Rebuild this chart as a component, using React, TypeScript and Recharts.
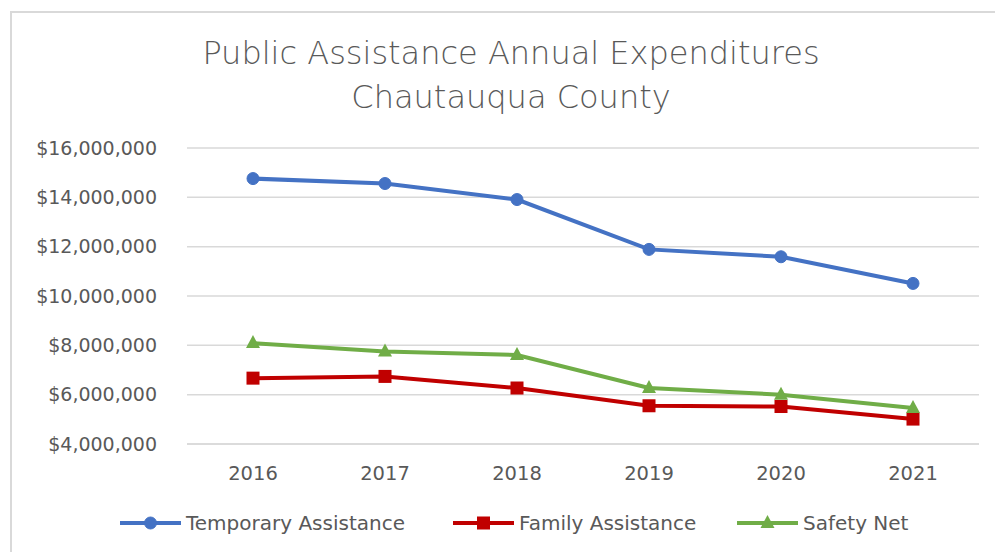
import React from 'react';
import { LineChart, Line, XAxis, YAxis, CartesianGrid } from 'recharts';

const years = ['2016', '2017', '2018', '2019', '2020', '2021'];
const temporaryAssistance = [14760000, 14560000, 13910000, 11890000, 11590000, 10510000];
const familyAssistance = [6670000, 6740000, 6270000, 5550000, 5520000, 5010000];
const safetyNet = [8090000, 7750000, 7610000, 6270000, 6000000, 5460000];
const yTicks = [4000000, 6000000, 8000000, 10000000, 12000000, 14000000, 16000000];
const titleLines = ['Public Assistance Annual Expenditures', 'Chautauqua County'];
const seriesNames = ['Temporary Assistance', 'Family Assistance', 'Safety Net'];
const seriesColors = ['#4472C4', '#C00000', '#70AD47'];
const seriesShapes = ['circle', 'square', 'triangle'];

const data = years.map((y, i) => ({
  year: y,
  temporary: temporaryAssistance[i],
  family: familyAssistance[i],
  safety: safetyNet[i],
}));
const seriesKeys = ['temporary', 'family', 'safety'];

const FONT = '"DejaVu Sans", sans-serif';
const TEXT = '#595959';
const legendLeft = [120, 453, 737];

const fmt = (v: number) => '$' + v.toLocaleString('en-US');

function Marker({ shape, cx, cy, color }: { shape: string; cx: number; cy: number; color: string }) {
  if (cx == null || cy == null) return null;
  if (shape === 'circle') return <circle cx={cx} cy={cy} r={6} fill={color} stroke={color} />;
  if (shape === 'square') return <rect x={cx - 6.5} y={cy - 6.5} width={13} height={13} fill={color} />;
  return <polygon points={`${cx},${cy - 8} ${cx + 7},${cy + 5} ${cx - 7},${cy + 5}`} fill={color} />;
}

export default function App() {
  return (
    <div style={{ position: 'fixed', left: 0, top: 0, width: 995, height: 552, overflow: 'hidden', background: '#fff' }}>
      <div
        style={{
          position: 'absolute',
          left: 10,
          top: 11,
          width: 1000,
          height: 600,
          borderLeft: '2px solid #d9d9d9',
          borderTop: '2px solid #d9d9d9',
        }}
      />
      <svg width={995} height={130} style={{ position: 'absolute', left: 0, top: 0 }}>
        {titleLines.map((t, i) => (
          <text
            key={i}
            x={511}
            y={64 + i * 44}
            textAnchor="middle"
            fontFamily={FONT}
            fontWeight={300}
            fontSize={32}
            fill={TEXT}
          >
            {t}
          </text>
        ))}
      </svg>
      <div style={{ position: 'absolute', left: 0, top: 0 }}>
        <LineChart width={995} height={552} data={data} margin={{ top: 148, right: 16, bottom: 68, left: 0 }}>
          <CartesianGrid vertical={false} stroke="#d9d9d9" strokeWidth={1.5} />
          <XAxis
            dataKey="year"
            axisLine={{ stroke: '#d9d9d9', strokeWidth: 1.5 }}
            tickLine={false}
            tickSize={0}
            tickMargin={22}
            height={40}
            padding={{ left: 66, right: 66 }}
            tick={{ fill: TEXT, fontSize: 19.5, fontFamily: FONT }}
          />
          <YAxis
            domain={[4000000, 16000000]}
            ticks={yTicks}
            width={187}
            axisLine={false}
            tickLine={false}
            tickSize={0}
            tickMargin={30}
            tickFormatter={fmt}
            tick={{ fill: TEXT, fontSize: 19, fontFamily: FONT }}
          />
          {seriesKeys.map((k, i) => (
            <Line
              key={k}
              dataKey={k}
              name={seriesNames[i]}
              stroke={seriesColors[i]}
              strokeWidth={4}
              isAnimationActive={false}
              dot={(p: any) => <Marker key={`${k}-${p.index}`} shape={seriesShapes[i]} cx={p.cx} cy={p.cy} color={seriesColors[i]} />}
              activeDot={false}
            />
          ))}
        </LineChart>
      </div>
      {seriesNames.map((n, i) => (
        <div
          key={n}
          style={{
            position: 'absolute',
            left: legendLeft[i],
            top: 510,
            height: 25,
            display: 'flex',
            alignItems: 'center',
            fontFamily: FONT,
            fontSize: 20,
            color: TEXT,
            whiteSpace: 'nowrap',
          }}
        >
          <svg width={61} height={24} style={{ marginRight: 5 }}>
            <line x1={0} y1={12} x2={61} y2={12} stroke={seriesColors[i]} strokeWidth={4} />
            <Marker shape={seriesShapes[i]} cx={30.5} cy={12} color={seriesColors[i]} />
          </svg>
          <span>{n}</span>
        </div>
      ))}
    </div>
  );
}
